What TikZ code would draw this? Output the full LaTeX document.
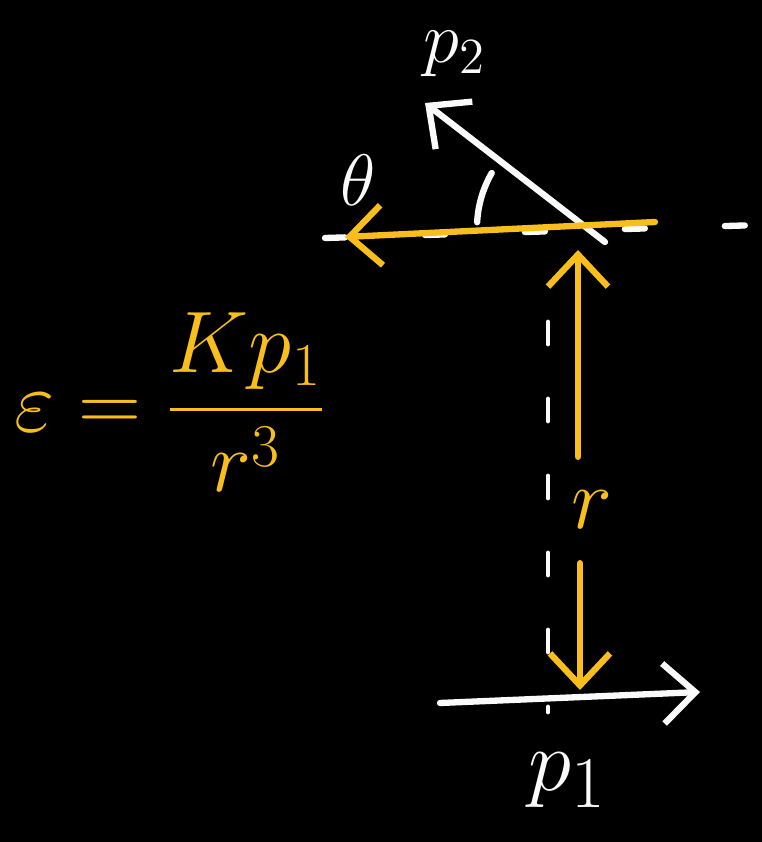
\documentclass[tikz,border=0pt]{standalone}
\usepackage{amsmath}
\usetikzlibrary{arrows.meta}
\definecolor{chalkyellow}{RGB}{248,190,28}
\definecolor{chalkwhite}{RGB}{250,250,250}
\begin{document}
\begin{tikzpicture}[line width=1.8pt,line cap=round,
    wline/.style={draw=chalkwhite},
    yline/.style={draw=chalkyellow},
    barb/.style={-{Straight Barb[length=3.2mm,width=6mm,line width=1.8pt]}},
    wlabel/.style={text=chalkwhite,font=\fontsize{22}{26}\selectfont},
    ylabel/.style={text=chalkyellow,font=\fontsize{30}{36}\selectfont}]
  \fill[black] (0,0) rectangle (7.62,8.42);
  \useasboundingbox (0,0) rectangle (7.62,8.42);

  \coordinate (Hl) at (3.25,6.04);
  \coordinate (Hr) at (7.60,6.17);
  \coordinate (Yr) at (6.55,6.20);
  \coordinate (Yl) at (3.45,6.05);
  \coordinate (O) at (5.87,6.14);
  \coordinate (Q0) at (6.05,6.00);
  \coordinate (Q2) at (4.25,7.39);
  \coordinate (Vt) at (5.48,5.20);
  \coordinate (Vb) at (5.48,1.30);
  \coordinate (Rt) at (5.78,5.92);
  \coordinate (Rb) at (5.80,1.52);
  \coordinate (Q1a) at (4.40,1.39);
  \coordinate (Q1b) at (7.00,1.50);

  % dashed axes
  \draw[wline,dash pattern=on 0.2cm off 0.8cm] (Hl) -- (Hr);
  \draw[wline,line width=1.4pt,dash pattern=on 0.22cm off 0.55cm] (Vt) -- (Vb);

  % momenta
  \draw[wline,barb] (Q0) -- (Q2);
  \draw[wline,barb] (Q1a) -- (Q1b);
  \draw[wline] ([shift={(177:1.1)}]O) arc[start angle=177,end angle=150,radius=1.1];

  % field and distance
  \draw[yline,barb] (Yr) -- (Yl);
  \node[ylabel,minimum height=1cm] (rlbl) at (5.92,3.32) {$r$};
  \draw[yline,barb] (rlbl.north -| Rt) -- (Rt);
  \draw[yline,barb] (rlbl.south -| Rb) -- (Rb);

  % labels
  \node[wlabel] (p2) at (4.55,7.88) {$p_2$};
  \node[wlabel] (th) at (3.58,6.62) {$\theta$};
  \node[wlabel,font=\fontsize{30}{36}\selectfont] (p1) at (5.68,0.62) {$p_1$};
  \node[ylabel,font=\fontsize{25}{30}\selectfont] (field) at (1.70,4.40) {$\varepsilon=\dfrac{Kp_1}{r^3}$};
\end{tikzpicture}
\end{document}
